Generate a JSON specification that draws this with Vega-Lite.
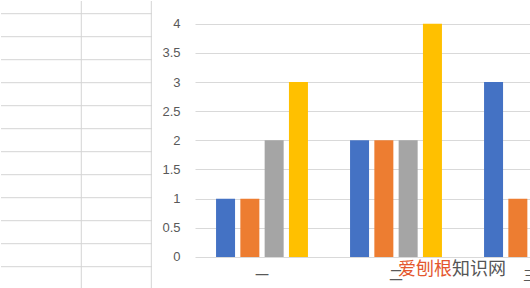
{
  "$schema": "https://vega.github.io/schema/vega-lite/v6.json",
  "padding": 0,
  "background": "white",
  "spacing": 0,
  "config": {"view": {"stroke": null}, "font": "Liberation Sans"},
  "hconcat": [
    {
      "width": 151,
      "height": 288,
      "layer": [
        {
          "data": {"values": [{"r": 0}, {"r": 1}, {"r": 2}, {"r": 3}, {"r": 4}, {"r": 5}, {"r": 6}, {"r": 7}, {"r": 8}, {"r": 9}, {"r": 10}, {"r": 11}]},
          "mark": {"type": "rule", "color": "#d4d4d4", "strokeWidth": 1},
          "encoding": {
            "y": {"field": "r", "type": "quantitative", "axis": null,
                  "scale": {"domain": [-0.552, 11.97], "reverse": true, "nice": false, "zero": false}}
          }
        },
        {
          "data": {"values": [{"c": 1}, {"c": 2}]},
          "mark": {"type": "rule", "color": "#d4d4d4", "strokeWidth": 1},
          "encoding": {
            "x": {"field": "c", "type": "quantitative", "axis": null,
                  "scale": {"domain": [-0.147, 2.01], "nice": false, "zero": false}}
          }
        }
      ]
    },
    {
      "width": 338,
      "height": 288,
      "layer": [
        {
          "data": {"values": [
            {"cat": "一", "series": "系列1", "value": 1},
            {"cat": "一", "series": "系列2", "value": 1},
            {"cat": "一", "series": "系列3", "value": 2},
            {"cat": "一", "series": "系列4", "value": 3},
            {"cat": "二", "series": "系列1", "value": 2},
            {"cat": "二", "series": "系列2", "value": 2},
            {"cat": "二", "series": "系列3", "value": 2},
            {"cat": "二", "series": "系列4", "value": 4},
            {"cat": "三", "series": "系列1", "value": 3},
            {"cat": "三", "series": "系列2", "value": 1}
          ]},
          "mark": {"type": "bar", "clip": true},
          "encoding": {
            "x": {"field": "cat", "type": "nominal", "sort": ["一", "二", "三"],
                  "scale": {"domain": ["一", "二", "三"], "range": [1, 403], "paddingInner": 0, "paddingOuter": 0},
                  "axis": {"orient": "bottom", "offset": -32, "title": null, "domain": false, "ticks": false, "tickSize": 0,
                           "labelPadding": 11, "labelFontSize": 14, "labelColor": "#595959", "labelFont": "Noto Sans CJK SC",
                           "labelAngle": 0, "grid": false, "labelOverlap": false}},
            "xOffset": {"field": "series", "type": "nominal",
                        "scale": {"domain": ["系列1", "系列2", "系列3", "系列4"], "paddingInner": 0.218, "paddingOuter": 0.866}},
            "y": {"field": "value", "type": "quantitative",
                  "scale": {"domain": [-0.549, 4.389], "nice": false, "zero": false},
                  "axis": {"values": [0, 0.5, 1, 1.5, 2, 2.5, 3, 3.5, 4], "format": "~g", "title": null,
                           "grid": true, "gridColor": "#d9d9d9", "domain": false, "ticks": false, "tickSize": 0,
                           "labelPadding": 14, "labelFontSize": 13, "labelColor": "#595959", "labelOverlap": false,
                           "minExtent": 41, "maxExtent": 41}},
            "color": {"field": "series", "type": "nominal", "legend": null,
                      "scale": {"domain": ["系列1", "系列2", "系列3", "系列4"], "range": ["#4472C4", "#ED7D31", "#A5A5A5", "#FFC000"]}}
          }
        },
        {
          "data": {"values": [{"t": "爱刨根", "cat": "二", "value": -0.223}]},
          "mark": {"type": "text", "align": "left", "baseline": "middle", "dx": 2, "fontSize": 18, "font": "Noto Sans CJK SC", "color": "#E4572E"},
          "encoding": {
            "x": {"field": "cat", "type": "nominal", "sort": ["一", "二", "三"],
                  "axis": {"orient": "bottom", "offset": -32, "title": null, "domain": false, "ticks": false, "tickSize": 0,
                           "labelPadding": 11, "labelFontSize": 14, "labelColor": "#595959", "labelFont": "Noto Sans CJK SC",
                           "labelAngle": 0, "grid": false, "labelOverlap": false}},
            "y": {"field": "value", "type": "quantitative",
                  "axis": {"values": [0, 0.5, 1, 1.5, 2, 2.5, 3, 3.5, 4], "format": "~g", "title": null,
                           "grid": true, "gridColor": "#d9d9d9", "domain": false, "ticks": false, "tickSize": 0,
                           "labelPadding": 14, "labelFontSize": 13, "labelColor": "#595959", "labelOverlap": false,
                           "minExtent": 41, "maxExtent": 41}},
            "text": {"field": "t"}
          }
        },
        {
          "data": {"values": [{"t": "知识网", "cat": "二", "value": -0.223}]},
          "mark": {"type": "text", "align": "left", "baseline": "middle", "dx": 56, "fontSize": 18, "font": "Noto Sans CJK SC", "color": "#555555"},
          "encoding": {
            "x": {"field": "cat", "type": "nominal", "sort": ["一", "二", "三"],
                  "axis": {"orient": "bottom", "offset": -32, "title": null, "domain": false, "ticks": false, "tickSize": 0,
                           "labelPadding": 11, "labelFontSize": 14, "labelColor": "#595959", "labelFont": "Noto Sans CJK SC",
                           "labelAngle": 0, "grid": false, "labelOverlap": false}},
            "y": {"field": "value", "type": "quantitative",
                  "axis": {"values": [0, 0.5, 1, 1.5, 2, 2.5, 3, 3.5, 4], "format": "~g", "title": null,
                           "grid": true, "gridColor": "#d9d9d9", "domain": false, "ticks": false, "tickSize": 0,
                           "labelPadding": 14, "labelFontSize": 13, "labelColor": "#595959", "labelOverlap": false,
                           "minExtent": 41, "maxExtent": 41}},
            "text": {"field": "t"}
          }
        }
      ]
    }
  ]
}
